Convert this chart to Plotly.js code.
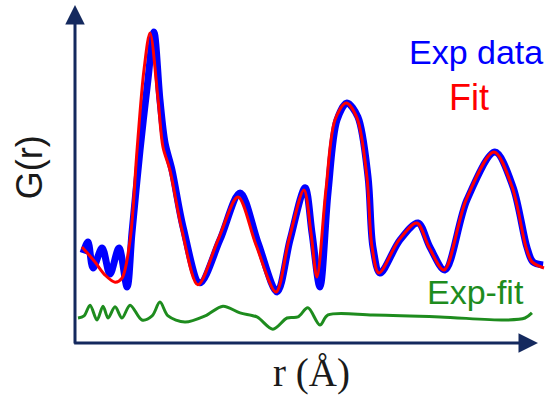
<!DOCTYPE html>
<html>
<head>
<meta charset="utf-8">
<script src="https://cdn.plot.ly/plotly-3.0.1.min.js"></script>
<style>html,body{margin:0;padding:0;background:#fff;}#chart{width:552px;height:404px;}</style>
</head>
<body>
<div id="chart"></div>
<script>
// r values (arbitrary Å scale) and G(r) values
const expR = [0.35,0.56,0.78,1.17,1.51,1.90,2.25,2.46,2.81,3.15,3.41,3.67,3.89,4.19,4.67,5.40,6.26,7.13,7.91,8.73,9.29,9.94,10.24,10.58,10.93,11.32,11.75,12.22,12.66,12.87,13.18,14.04,14.82,15.33,15.98,16.93,18.14,18.92,19.52,19.78,20.22];
const expG = [2.66,2.99,2.22,2.81,2.04,2.81,1.66,3.25,5.71,7.78,9.20,7.19,5.92,5.12,3.43,1.78,3.05,4.44,2.96,1.51,3.05,4.59,3.25,1.66,4.44,6.60,7.10,6.69,4.91,2.84,2.07,3.05,3.55,2.84,2.16,4.23,5.65,4.62,2.84,2.40,2.31];

const fitR = [0.30,0.86,1.30,1.73,2.03,2.38,2.68,2.98,3.24,3.59,3.80,4.10,4.62,5.31,6.18,7.04,7.82,8.68,9.24,9.89,10.19,10.45,10.84,11.23,11.71,12.18,12.61,12.83,13.13,14.00,14.77,15.29,15.94,16.89,18.10,18.88,19.48,19.74,20.26];
const fitG = [2.84,2.40,2.01,1.80,1.92,3.05,5.71,8.08,9.17,7.19,5.80,5.12,3.34,1.72,3.05,4.32,2.90,1.51,3.05,4.53,3.28,1.95,4.53,6.60,7.10,6.66,4.91,2.84,2.07,3.05,3.55,2.84,2.16,4.23,5.65,4.62,2.84,2.40,2.22];

const diffR = [0.13,0.39,0.65,0.95,1.21,1.43,1.73,2.03,2.38,2.89,3.33,3.67,4.02,4.75,5.62,6.39,7.13,7.86,8.55,9.16,9.63,10.06,10.58,10.93,12.87,15.77,18.66,19.44,19.74];
const diffG = [0.74,0.80,1.12,0.68,1.09,0.74,1.07,0.74,1.12,0.68,0.80,1.21,0.80,0.62,0.80,1.09,0.89,0.77,0.41,0.74,0.77,1.04,0.53,0.83,0.83,0.77,0.68,0.74,0.89];

const seriesNames = ["Exp data", "Fit", "Exp-fit"];
const xTitle = "r (Å)";
const yTitle = "G(r)";

const navy = "#14295e";
const traces = [
  {x: expR, y: expG, name: seriesNames[0], mode: "lines", line: {color: "#0000ff", width: 7, shape: "spline", smoothing: 0.9}, cliponaxis: false},
  {x: fitR, y: fitG, name: seriesNames[1], mode: "lines", line: {color: "#ff0000", width: 3, shape: "spline", smoothing: 0.9}, cliponaxis: false},
  {x: diffR, y: diffG, name: seriesNames[2], mode: "lines", line: {color: "#1e8c1e", width: 3, shape: "spline", smoothing: 0.9}, cliponaxis: false}
];

const ax = {showgrid: false, zeroline: false, showticklabels: false, showline: false, ticks: "", fixedrange: true};
const layout = {
  width: 552, height: 404,
  margin: {l: 75, r: 5, t: 5, b: 61},
  paper_bgcolor: "#fff", plot_bgcolor: "#fff",
  showlegend: false,
  xaxis: Object.assign({range: [0, 20.39]}, ax),
  yaxis: Object.assign({range: [0, 10]}, ax),
  annotations: [
    {x: 20, y: 0, ax: -0.1, ay: 0, xref: "x", yref: "y", axref: "x", ayref: "y", text: "", showarrow: true, arrowhead: 2, arrowsize: 1.3, arrowwidth: 3, arrowcolor: navy, standoff: 0},
    {x: 0, y: 10, ax: 0, ay: -0.06, xref: "x", yref: "y", axref: "x", ayref: "y", text: "", showarrow: true, arrowhead: 2, arrowsize: 1.3, arrowwidth: 3, arrowcolor: navy, standoff: 0},
    {x: 17.32, y: 8.6, xref: "x", yref: "y", text: seriesNames[0], showarrow: false, font: {family: "Liberation Sans, Arial", size: 34, color: "#0000ff"}},
    {x: 17.02, y: 7.25, xref: "x", yref: "y", text: seriesNames[1], showarrow: false, font: {family: "Liberation Sans, Arial", size: 36, color: "#ff0000"}},
    {x: 17.32, y: 1.5, xref: "x", yref: "y", text: seriesNames[2], showarrow: false, font: {family: "Liberation Sans, Arial", size: 34, color: "#1e8c1e"}},
    {x: -0.145, y: 0.52, xref: "paper", yref: "paper", text: yTitle, textangle: -90, showarrow: false, font: {family: "Liberation Sans, Arial", size: 36, color: "#1a1a1a"}},
    {x: 0.5, y: -0.16, xref: "paper", yref: "paper", text: xTitle, showarrow: false, font: {family: "Liberation Serif, serif", size: 39, color: "#1a1a1a"}}
  ]
};

Plotly.newPlot("chart", traces, layout, {staticPlot: true, displayModeBar: false});
</script>
</body>
</html>
